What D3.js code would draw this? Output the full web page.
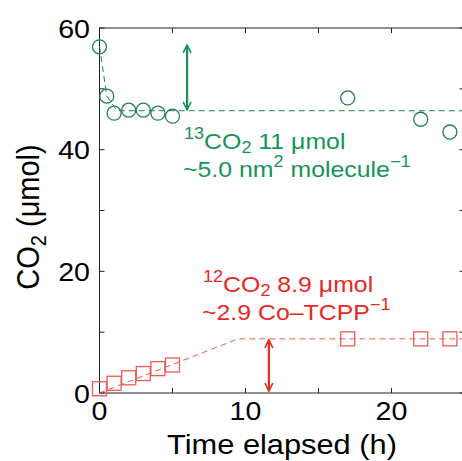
<!DOCTYPE html>
<html><head><meta charset="utf-8">
<script src="https://cdn.jsdelivr.net/npm/d3@7"></script>
<style>body{margin:0;background:#fff;overflow:hidden}svg{display:block}text{font-family:"Liberation Sans",Arial,Helvetica,sans-serif}</style>
</head><body><svg id="c" width="462" height="461"></svg>
<script>
const co2_13_t = [0, 0.5, 1, 2, 3, 4, 5, 17, 22, 24];
const co2_13_v = [56.9, 48.8, 46.0, 46.5, 46.5, 46.0, 45.5, 48.5, 45.0, 42.9];
const co2_13_fit_t = [0, 0.5, 1.2, 25];
const co2_13_fit_v = [57.0, 48.8, 46.4, 46.4];
const co2_12_t = [0, 1, 2, 3, 4, 5, 17, 22, 24];
const co2_12_v = [0.7, 1.6, 2.5, 3.2, 4.0, 4.6, 8.9, 8.9, 8.9];
const co2_12_fit_t = [0, 9.5, 25];
const co2_12_fit_v = [0, 8.9, 8.9];
const xTicks = [0, 5, 10, 15, 20, 25];
const xLabels = [0, 10, 20];
const yTicks = [0, 10, 20, 30, 40, 50, 60];
const yLabels = [0, 20, 40, 60];
const arrow13 = {t: 6.0, from: 57.2, to: 46.4};
const arrow12 = {t: 11.6, from: 8.9, to: 0};

const green = "#149459", greenDark = "#227f4e", red = "#e8271f", redLight = "#ee5a55";
const L = 99.5, T = 28, W = 365, H = 365;
const SX = 1.1;
const svg = d3.select("#c");
const x = d3.scaleLinear().domain([0, 25]).range([L, L + W]);
const y = d3.scaleLinear().domain([0, 60]).range([T + H, T]);

const defs = svg.append("defs");
function marker(id, col) {
  defs.append("marker").attr("id", id).attr("viewBox", "0 0 10 10").attr("refX", 9).attr("refY", 5)
    .attr("markerWidth", 4.5).attr("markerHeight", 4.5).attr("orient", "auto-start-reverse")
    .attr("markerUnits", "strokeWidth")
    .append("path").attr("d", "M1,1 L9,5 L1,9").attr("fill", "none").attr("stroke", col).attr("stroke-width", 1.6);
}
marker("mg", green); marker("mr", red);

function txt(px, py, size, anchor, s, extra) {
  return svg.append("g").attr("transform", `translate(${px},${py}) ${extra || ""} scale(${s},1)`)
    .append("text").attr("font-size", size).attr("text-anchor", anchor);
}

// frame
const ax = svg.append("g").attr("stroke", "#222").attr("fill", "none").attr("stroke-width", 1);
ax.append("rect").attr("x", L).attr("y", T).attr("width", W).attr("height", H);
xTicks.forEach(t => {
  ax.append("line").attr("x1", x(t)).attr("x2", x(t)).attr("y1", T + H).attr("y2", T + H - 5);
  ax.append("line").attr("x1", x(t)).attr("x2", x(t)).attr("y1", T).attr("y2", T + 5);
});
yTicks.forEach(v => {
  ax.append("line").attr("x1", L).attr("x2", L + 5).attr("y1", y(v)).attr("y2", y(v));
  ax.append("line").attr("x1", L + W).attr("x2", L + W - 5).attr("y1", y(v)).attr("y2", y(v));
});
xLabels.forEach(d => txt(x(d), 420, 26, "middle", SX).text(d));
yLabels.forEach(d => txt(90, y(d) + 9.5, 26, "end", SX).text(d));
txt(x(12.5), 454, 28, "middle", SX).text("Time elapsed (h)");
const yl = svg.append("g").attr("transform", "translate(38.5,217) rotate(-90) scale(1,1.1)")
  .append("text").attr("text-anchor", "middle").attr("font-size", 29);
yl.append("tspan").text("CO");
yl.append("tspan").attr("font-size", 20).attr("dy", 7).text("2");
yl.append("tspan").attr("dy", -7).text(" (μmol)");

const line = d3.line().x(d => x(d[0])).y(d => y(d[1]));
svg.append("path").datum(co2_13_fit_t.map((t, i) => [t, co2_13_fit_v[i]])).attr("d", line)
  .attr("fill", "none").attr("stroke", greenDark).attr("stroke-width", 1).attr("stroke-dasharray", "6,4");
svg.append("path").datum(co2_12_fit_t.map((t, i) => [t, co2_12_fit_v[i]])).attr("d", line)
  .attr("fill", "none").attr("stroke", redLight).attr("stroke-width", 1).attr("stroke-dasharray", "6,4");

svg.append("g").selectAll("circle").data(co2_13_t.map((t, i) => [t, co2_13_v[i]])).join("circle")
  .attr("cx", d => x(d[0])).attr("cy", d => y(d[1])).attr("r", 7)
  .attr("fill", "none").attr("stroke", greenDark).attr("stroke-width", 1.3);
svg.append("g").selectAll("rect").data(co2_12_t.map((t, i) => [t, co2_12_v[i]])).join("rect")
  .attr("x", d => x(d[0]) - 7).attr("y", d => y(d[1]) - 7).attr("width", 14).attr("height", 14)
  .attr("fill", "none").attr("stroke", redLight).attr("stroke-width", 1.3);

svg.append("line").attr("x1", x(arrow13.t)).attr("x2", x(arrow13.t)).attr("y1", y(arrow13.to) - 1).attr("y2", y(arrow13.from))
  .attr("stroke", green).attr("stroke-width", 2.2).attr("marker-start", "url(#mg)").attr("marker-end", "url(#mg)");
svg.append("line").attr("x1", x(arrow12.t)).attr("x2", x(arrow12.t)).attr("y1", y(arrow12.from) + 1).attr("y2", y(arrow12.to) - 2)
  .attr("stroke", red).attr("stroke-width", 2.2).attr("marker-start", "url(#mr)").attr("marker-end", "url(#mr)");

function label(xp, yp, col, parts) {
  const t = txt(xp, yp, 22, "start", 1.13).attr("fill", col);
  parts.forEach(p => {
    const s = t.append("tspan").text(p[0]);
    if (p[1] === "sup") s.attr("font-size", 16).attr("dy", -10);
    if (p[1] === "sub") s.attr("font-size", 16).attr("dy", 4);
    if (p[1] === "supend") s.attr("dy", 10);
    if (p[1] === "subend") s.attr("dy", -4);
  });
}
label(184, 149, green, [["13", "sup"], ["CO", "supend"], ["2", "sub"], [" 11 μmol", "subend"]]);
label(183, 177, green, [["~5.0 nm"], ["2", "sup"], [" molecule", "supend"], ["−1", "sup"]]);
label(203, 292, red, [["12", "sup"], ["CO", "supend"], ["2", "sub"], [" 8.9 μmol", "subend"]]);
label(202, 320, red, [["~2.9 Co–TCPP"], ["−1", "sup"]]);
</script></body></html>
